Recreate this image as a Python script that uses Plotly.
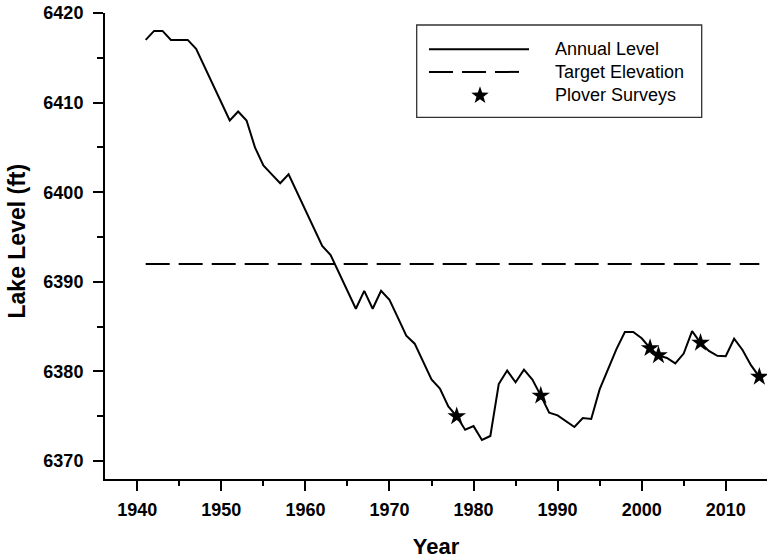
import math
import plotly.graph_objects as go

# ---- data ----
years = list(range(1941, 2015))
annual_level = [
    6417, 6418, 6418, 6417, 6417, 6417, 6416, 6414, 6412, 6410,
    6408, 6409, 6408, 6405, 6403, 6402, 6401, 6402, 6400, 6398,
    6396, 6394, 6393, 6391, 6389, 6387, 6389, 6387, 6389, 6388,
    6386, 6384, 6383.1, 6381, 6379.1, 6378.1, 6376.1, 6375.0, 6373.5, 6373.9,
    6372.35, 6372.8, 6378.6, 6380.1, 6378.8, 6380.2, 6379.1, 6377.3, 6375.4, 6375.1,
    6374.5, 6373.8, 6374.8, 6374.7, 6378.0, 6380.2, 6382.5, 6384.4, 6384.4, 6383.7,
    6382.6, 6381.8, 6381.5, 6380.9, 6382.0, 6384.5, 6383.2, 6382.3, 6381.75, 6381.7,
    6383.65, 6382.4, 6380.7, 6379.4,
]
target_elevation = 6392
survey_years = [1978, 1988, 2001, 2002, 2007, 2014]
survey_levels = [annual_level[years.index(y)] for y in survey_years]

legend_labels = ["Annual Level", "Target Elevation", "Plover Surveys"]
x_title = "Year"
y_title = "Lake Level (ft)"

FONT = "Arial, 'Liberation Sans', sans-serif"

fig = go.Figure()
fig.add_trace(go.Scatter(x=years, y=annual_level, mode="lines",
                         line=dict(color="black", width=2), showlegend=False,
                         name=legend_labels[0]))
fig.add_trace(go.Scatter(x=years, y=[target_elevation] * len(years), mode="lines",
                         line=dict(color="black", width=2, dash="24px,9px"),
                         showlegend=False, name=legend_labels[1]))
fig.add_trace(go.Scatter(x=survey_years, y=survey_levels, mode="markers",
                         marker=dict(symbol="star", size=14, color="black",
                                     line=dict(width=0)),
                         showlegend=False, name=legend_labels[2]))

# ---- layout ----
W, H = 767, 559
ML, MT, MR, MB = 105, 13, 0, 80
PW, PH = W - ML - MR, H - MT - MB


def px_x(sx):
    return (sx - ML) / PW


def px_y(sy):
    return (H - MB - sy) / PH


axis_common = dict(
    showline=True, linecolor="black", linewidth=2,
    ticks="outside", ticklen=10, tickwidth=2, tickcolor="black",
    showgrid=False, zeroline=False, ticklabeloverflow="allow",
    automargin=False,
    tickfont=dict(family=FONT, size=18, color="black", weight="bold"),
)

fig.update_layout(
    width=W, height=H,
    margin=dict(l=ML, r=MR, t=MT, b=MB, autoexpand=False),
    paper_bgcolor="white", plot_bgcolor="white",
    font=dict(family=FONT, color="black"),
    showlegend=False,
    xaxis=dict(range=[1936.16, 2014.91], tick0=1940, dtick=10,
               ticklabelstandoff=3,
               minor=dict(dtick=5, tick0=1940, ticks="outside", ticklen=5,
                          tickwidth=2, tickcolor="black", showgrid=False),
               title=dict(text=x_title, standoff=21,
                          font=dict(family=FONT, size=22, weight="bold")),
               **axis_common),
    yaxis=dict(range=[6368, 6420], tick0=6370, dtick=10,
               ticklabelstandoff=6,
               minor=dict(dtick=5, tick0=6370, ticks="outside", ticklen=6,
                          tickwidth=2, tickcolor="black", showgrid=False),
               **axis_common),
)

# y-axis title as rotated text so it can sit close to the page edge
fig.add_annotation(xref="paper", yref="paper", x=px_x(16), y=px_y(241.5),
                   text=y_title, textangle=-90, showarrow=False,
                   xanchor="center", yanchor="middle",
                   font=dict(family=FONT, size=23, color="black", weight="bold"))

# ---- custom legend (box, samples, labels) ----
fig.add_shape(type="rect", xref="paper", yref="paper",
              x0=px_x(416.7), x1=px_x(701.7), y0=px_y(117.3), y1=px_y(25),
              line=dict(color="#333333", width=1.3), fillcolor="white", layer="above")
rows = [49.3, 71.9, 95.0]
fig.add_shape(type="line", xref="paper", yref="paper",
              x0=px_x(429), x1=px_x(529), y0=px_y(rows[0]), y1=px_y(rows[0]),
              line=dict(color="black", width=2), layer="above")
fig.add_shape(type="line", xref="paper", yref="paper",
              x0=px_x(429), x1=px_x(520), y0=px_y(rows[1]), y1=px_y(rows[1]),
              line=dict(color="black", width=2, dash="24px,9px"), layer="above")

# star glyph for legend sample
cx, cy, R_out, R_in = 480.0, 95.5, 9.2, 3.7
pts = []
for k in range(10):
    ang = -math.pi / 2 + k * math.pi / 5
    rr = R_out if k % 2 == 0 else R_in
    pts.append((px_x(cx + rr * math.cos(ang)), px_y(cy + rr * math.sin(ang))))
path = "M " + " L ".join(f"{x:.5f},{y:.5f}" for x, y in pts) + " Z"
fig.add_shape(type="path", xref="paper", yref="paper", path=path,
              fillcolor="black", line=dict(width=0), layer="above")

for lab, r in zip(legend_labels, rows):
    fig.add_annotation(xref="paper", yref="paper", x=px_x(553), y=px_y(r),
                       text=lab, showarrow=False, xanchor="left", yanchor="middle",
                       font=dict(family=FONT, size=18, color="black"))

# remove the browser's default 8px page margin so the figure fills the window
fig.write_html("out.html",
               config={"displayModeBar": False},
               post_script="document.body.style.margin='0px';"
                           "document.body.style.overflow='hidden';")
